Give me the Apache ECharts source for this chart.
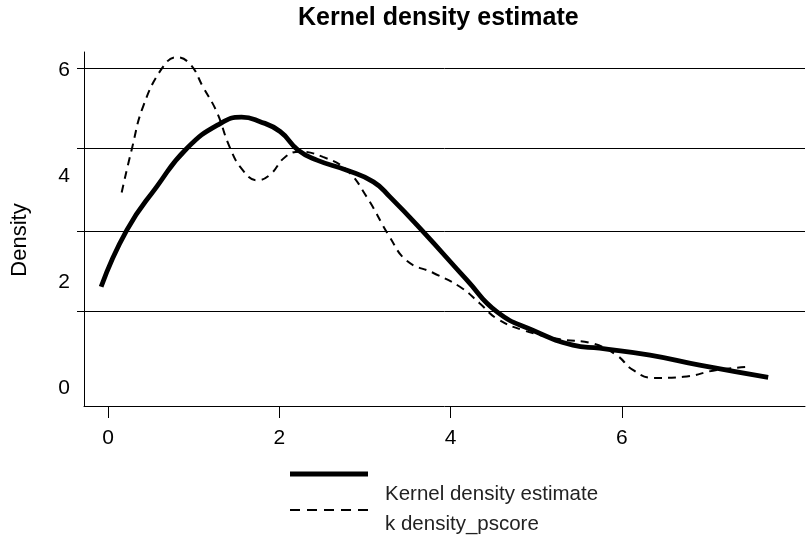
<!DOCTYPE html>
<html>
<head>
<meta charset="utf-8">
<script src="https://cdn.jsdelivr.net/npm/echarts@6/dist/echarts.min.js"></script>
<style>html,body{margin:0;padding:0;background:#fff}#c{width:807px;height:541px}</style>
</head>
<body>
<div id="c"></div>
<script>
const titleText = 'Kernel density estimate';
const yAxisName = 'Density';
const seriesNames = ['Kernel density estimate', 'k density_pscore'];
const xTickValues = [0, 2, 4, 6];
const yLabelValues = [0, 2, 4, 6];
const yGridValues = [1.45, 2.96, 4.53, 6.04];

const solidX = [-0.08, 0.22, 0.57, 0.92, 1.31, 1.56, 1.77, 2.01, 2.22, 2.44, 2.79, 3.10, 3.29, 3.68, 4.19, 4.54, 4.96, 5.43, 5.74, 6.33, 6.91, 7.71];
const solidY = [1.91, 2.98, 3.80, 4.52, 4.99, 5.11, 5.03, 4.84, 4.49, 4.30, 4.11, 3.89, 3.61, 2.95, 2.04, 1.44, 1.09, 0.81, 0.75, 0.62, 0.43, 0.20];

const dashX = [0.16, 0.28, 0.41, 0.63, 0.80, 0.96, 1.11, 1.27, 1.42, 1.56, 1.74, 1.89, 2.07, 2.24, 2.51, 2.79, 3.02, 3.29, 3.49, 3.80, 4.11, 4.34, 4.54, 4.85, 5.28, 5.66, 5.94, 6.13, 6.37, 6.72, 7.11, 7.49];
const dashY = [3.69, 4.52, 5.31, 6.03, 6.24, 6.11, 5.68, 5.21, 4.55, 4.14, 3.92, 4.02, 4.36, 4.46, 4.36, 4.11, 3.61, 2.85, 2.40, 2.17, 1.91, 1.60, 1.31, 1.09, 0.92, 0.84, 0.62, 0.34, 0.19, 0.21, 0.34, 0.40];

const FONT = 'Liberation Sans, Arial, Helvetica, sans-serif';
const pairs = (xs, ys) => xs.map((x, i) => [x, ys[i]]);

const chart = echarts.init(document.getElementById('c'), null, {renderer: 'canvas'});
chart.setOption({
  animation: false,
  backgroundColor: '#fff',
  title: {
    text: titleText,
    left: 298,
    top: 6,
    padding: 0,
    textStyle: {fontFamily: FONT, fontSize: 25, fontWeight: 'bold', color: '#000'}
  },
  grid: {left: 84, right: 2, top: 52, bottom: 135, containLabel: false},
  xAxis: {
    type: 'value',
    min: -0.28,
    max: 8.14,
    axisLine: {show: true, onZero: false, lineStyle: {color: '#000', width: 1}},
    axisTick: {show: true, customValues: xTickValues, length: 12, lineStyle: {color: '#000'}},
    axisLabel: {show: true, customValues: xTickValues, margin: 22, fontFamily: FONT, fontSize: 21, color: '#000'},
    splitLine: {show: false}
  },
  yAxis: {
    type: 'value',
    min: -0.34,
    max: 6.34,
    name: yAxisName,
    nameLocation: 'middle',
    nameRotate: 90,
    nameGap: 53,
    nameTextStyle: {fontFamily: FONT, fontSize: 22, color: '#000', padding: [0, 22, 0, 0]},
    axisLine: {show: true, onZero: false, lineStyle: {color: '#000', width: 1}},
    axisTick: {show: true, customValues: yGridValues, length: 7, lineStyle: {color: '#000'}},
    axisLabel: {show: true, customValues: yLabelValues, margin: 14, fontFamily: FONT, fontSize: 21, color: '#000'},
    splitLine: {show: true, lineStyle: {color: '#000', width: 1}}
  },
  series: [
    {
      name: seriesNames[0], type: 'line', data: pairs(solidX, solidY),
      showSymbol: false, smooth: 0.5,
      lineStyle: {color: '#000', width: 4.8, type: 'solid'}, z: 3
    },
    {
      name: seriesNames[1], type: 'line', data: pairs(dashX, dashY),
      showSymbol: false, smooth: 0.45,
      lineStyle: {color: '#000', width: 2, type: [8, 6]}, z: 2
    }
  ],
  graphic: [
    {type: 'line', shape: {x1: 290, y1: 474, x2: 368, y2: 474}, style: {stroke: '#000', lineWidth: 5}},
    {type: 'line', shape: {x1: 290, y1: 510, x2: 368, y2: 510}, style: {stroke: '#000', lineWidth: 2, lineDash: [10, 7]}},
    {type: 'text', left: 385, top: 484, style: {text: seriesNames[0], font: '20.5px ' + FONT, fill: '#222'}},
    {type: 'text', left: 385, top: 514, style: {text: seriesNames[1], font: '20.5px ' + FONT, fill: '#222'}}
  ]
});
</script>
</body>
</html>
